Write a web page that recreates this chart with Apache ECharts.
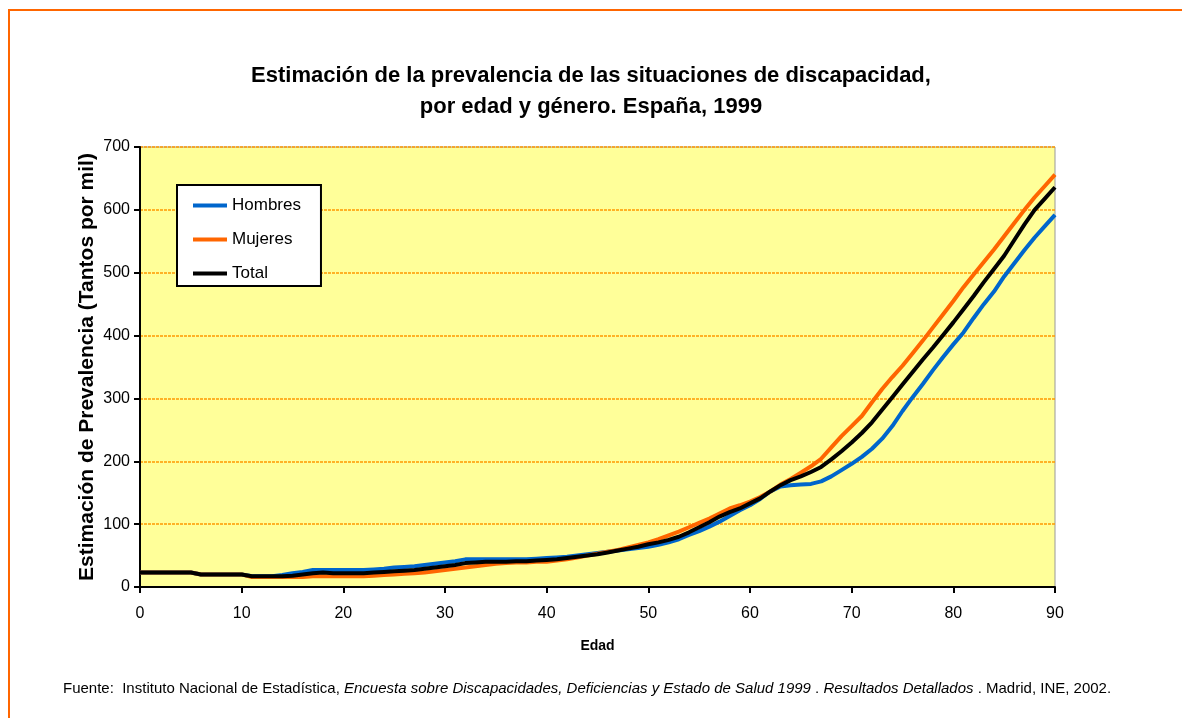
<!DOCTYPE html>
<html style="height: 100%">
    <head>
        <meta charset="utf-8">
        <script type="text/javascript" src="https://cdn.jsdelivr.net/npm/echarts@6/dist/echarts.min.js"></script>
    </head>
    <body style="height: 100%; margin: 0; background: #fff">
        <div id="main" style="width: 1182px; height: 718px"></div>
        <script type="text/javascript">
            // edad 0..90
            var edades = [];
            for (let i = 0; i <= 90; i++) edades.push(i);

            var hombres = [23,23,23,23,23,23,20,20,20,20,20,17,17,17,19,22,24,27,27,27,
                27,27,27,28,29,31,32,33,35,37,39,41,44,44,44,44,44,44,44,45,
                46,47,48,50,52,54,56,58,60,62,64,67,71,76,83,89,96,104,113,122,
                130,140,152,160,162,163,164,168,176,186,196,207,220,236,256,280,302,323,345,366,
                386,405,428,450,470,494,515,536,556,574,592];
            var mujeres = [23,23,23,23,23,23,20,20,20,20,20,16,16,16,16,16,16,17,17,17,
                17,17,17,18,19,20,21,22,23,25,27,29,31,33,35,37,38,39,39,40,
                40,42,44,47,50,53,56,59,63,67,71,76,82,88,95,102,109,117,125,130,
                136,143,152,163,172,182,192,204,222,240,256,272,294,315,334,352,372,392,413,434,
                455,477,497,517,537,558,579,600,620,638,656];
            var total = [23,23,23,23,23,23,20,20,20,20,20,17,17,17,17,18,20,22,23,22,
                22,22,22,23,24,25,26,27,29,31,33,35,38,39,40,40,40,41,41,42,
                43,44,46,48,50,52,55,58,61,64,68,71,75,80,87,95,103,112,119,125,
                133,141,152,162,170,176,183,191,203,216,230,245,262,282,302,322,342,362,381,401,
                421,442,463,485,506,527,552,577,600,618,636];

            function pares(vals) {
                return edades.map((e, i) => [e, vals[i]]);
            }

            var myChart = echarts.init(document.getElementById('main'));
            var font = 'Liberation Sans, Arial, sans-serif';
            myChart.setOption({
                backgroundColor: '#fff',
                textStyle: { fontFamily: font },
                title: [{
                    text: 'Estimación de la prevalencia de las situaciones de discapacidad,\npor edad y género. España, 1999',
                    left: 'center',
                    top: 55,
                    textStyle: { fontSize: 22, fontWeight: 'bold', color: '#000', lineHeight: 31, fontFamily: font }
                }, {
                    text: '{n|Fuente:  Instituto Nacional de Estadística, }{i|Encuesta sobre Discapacidades, Deficiencias y Estado de Salud 1999}{n| . }{i|Resultados Detallados}{n| . Madrid, INE, 2002.}',
                    left: 58,
                    top: 676,
                    textStyle: {
                        fontWeight: 'normal',
                        rich: {
                            n: { fontSize: 15, color: '#000', fontWeight: 'normal', fontFamily: font },
                            i: { fontSize: 15, color: '#000', fontWeight: 'normal', fontStyle: 'italic', fontFamily: font }
                        }
                    }
                }],
                legend: {
                    orient: 'vertical',
                    left: 177,
                    top: 185,
                    backgroundColor: '#fff',
                    borderColor: '#000',
                    borderWidth: 2,
                    padding: [12, 20, 4, 16],
                    itemGap: 17,
                    itemWidth: 34,
                    itemHeight: 4,
                    icon: 'rect',
                    textStyle: { fontSize: 17, color: '#000', fontFamily: font },
                    data: ['Hombres', 'Mujeres', 'Total']
                },
                grid: {
                    left: 140, right: 127, top: 147, bottom: 131,
                    show: true,
                    backgroundColor: '#FFFF99',
                    borderColor: '#999',
                    borderWidth: 1
                },
                xAxis: {
                    type: 'value',
                    min: 0, max: 90, interval: 10,
                    name: 'Edad',
                    nameLocation: 'middle',
                    nameGap: 52,
                    nameTextStyle: { fontSize: 14, fontWeight: 'bold', color: '#000', fontFamily: font },
                    axisLine: { lineStyle: { color: '#000', width: 2 } },
                    axisTick: { length: 6, lineStyle: { color: '#000', width: 2 } },
                    axisLabel: { fontSize: 16, color: '#000', margin: 19, fontFamily: font },
                    splitLine: { show: false }
                },
                yAxis: {
                    type: 'value',
                    min: 0, max: 700, interval: 100,
                    name: 'Estimación de Prevalencia (Tantos por mil)',
                    nameLocation: 'middle',
                    nameGap: 42,
                    nameMoveOverlap: false,
                    nameTextStyle: { fontSize: 21, fontWeight: 'bold', color: '#000', fontFamily: font },
                    axisLine: { show: true, lineStyle: { color: '#000', width: 2 } },
                    axisTick: { show: true, length: 6, lineStyle: { color: '#000', width: 2 } },
                    axisLabel: { fontSize: 16, color: '#000', margin: 10, fontFamily: font },
                    splitLine: { lineStyle: { color: '#FF9900', type: [3, 1], width: 1.5 } }
                },
                series: [{
                    name: 'Hombres', type: 'line', data: pares(hombres),
                    symbol: 'none', color: '#0066CC',
                    lineStyle: { width: 4, color: '#0066CC' }
                }, {
                    name: 'Mujeres', type: 'line', data: pares(mujeres),
                    symbol: 'none', color: '#FF6600',
                    lineStyle: { width: 4, color: '#FF6600' }
                }, {
                    name: 'Total', type: 'line', data: pares(total),
                    symbol: 'none', color: '#000',
                    lineStyle: { width: 4, color: '#000' }
                }],
                graphic: [{
                    type: 'rect',
                    shape: { x: 9, y: 10, width: 1300, height: 900 },
                    style: { fill: 'none', stroke: '#FF6600', lineWidth: 2 }
                }]
            });
        </script>
    </body>
</html>
